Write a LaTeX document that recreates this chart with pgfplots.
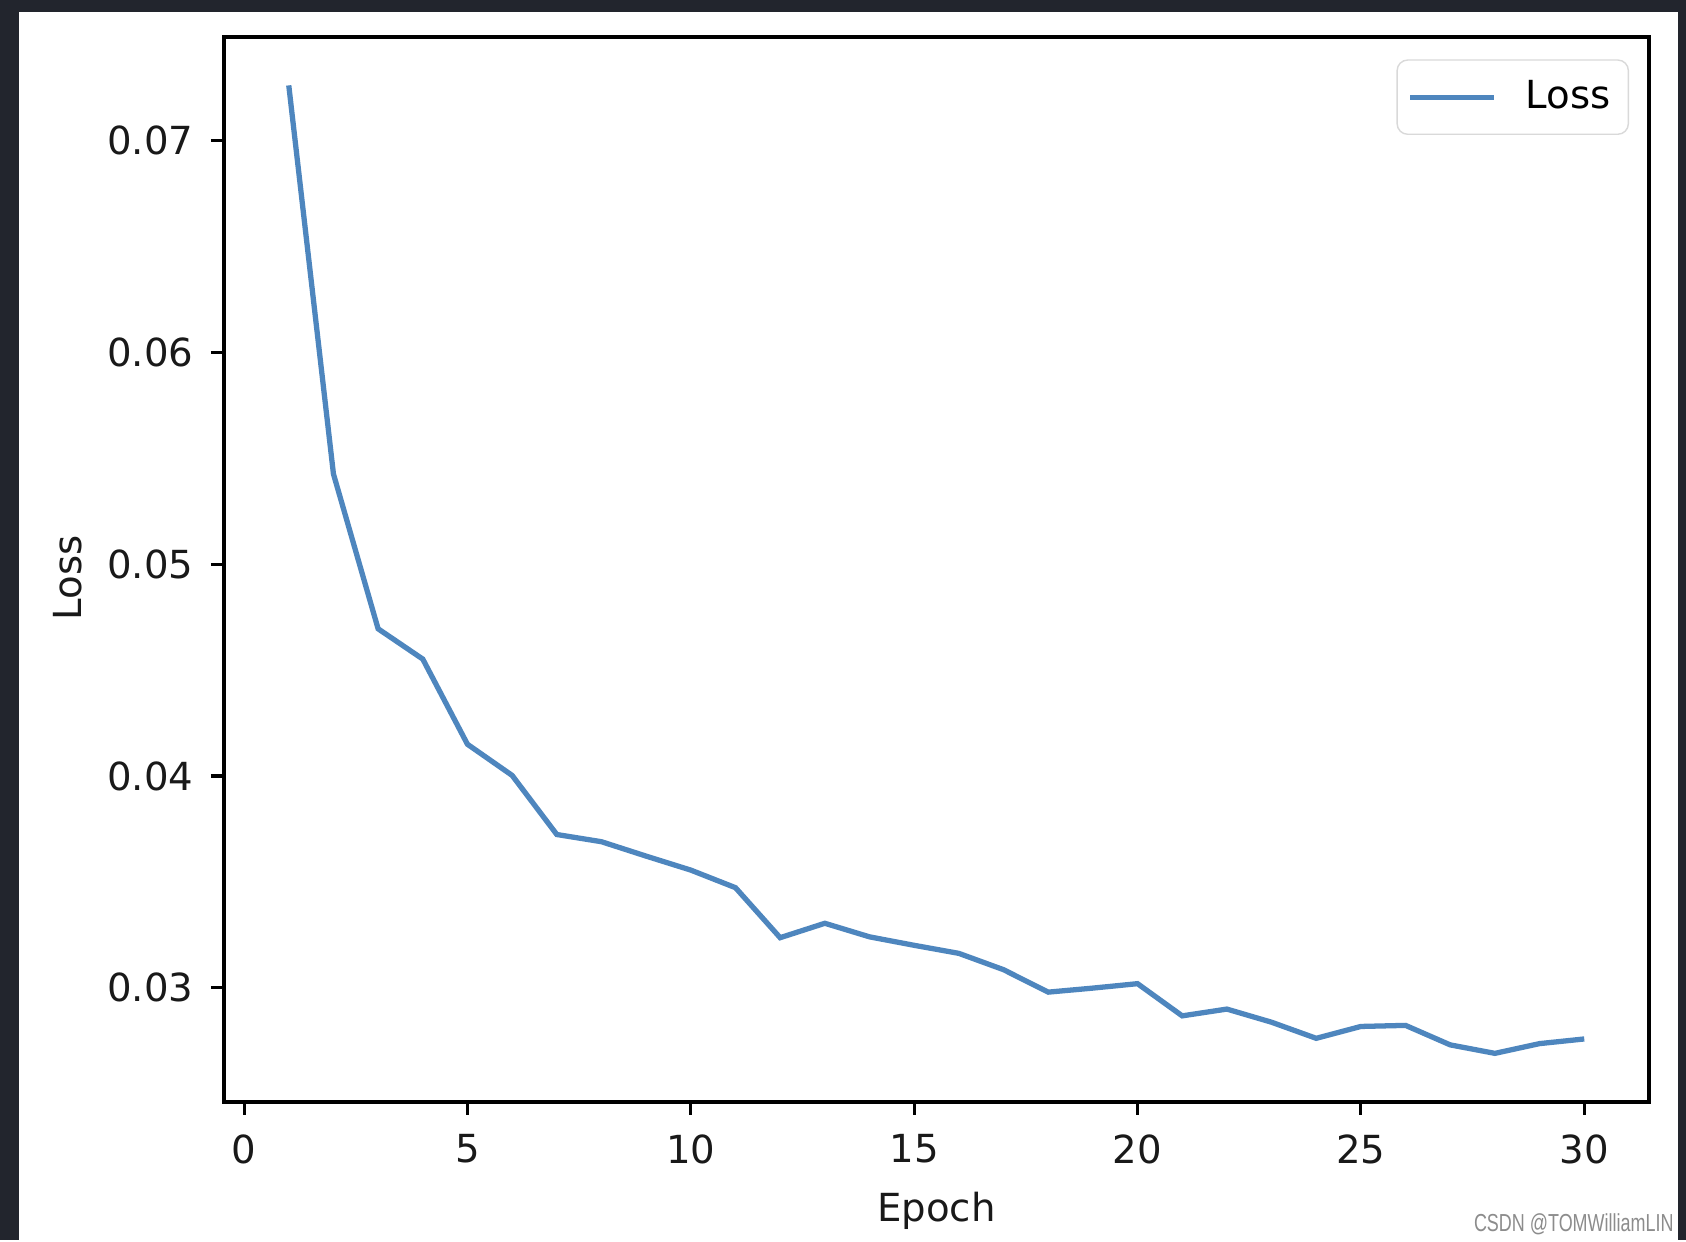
\documentclass[border=0pt]{standalone}
\usepackage{pgfplots}
\pgfplotsset{compat=1.18}
\usepackage{fontspec}
\setmainfont{DejaVu Sans}
\newfontfamily\wmfont{Liberation Sans}
\definecolor{framedark}{HTML}{22252D}
\definecolor{lossblue}{HTML}{4E86BE}
\begin{document}
\begin{tikzpicture}
\fill[framedark] (0,0) rectangle (16.86,12.40);
\fill[white] (0.19,0) rectangle (16.78,12.28);
\begin{axis}[
  at={(2.24cm,1.38cm)}, anchor=south west,
  width=14.25cm, height=10.65cm, scale only axis,
  xmin=-0.45, xmax=31.45,
  ymin=0.024615, ymax=0.074885,
  xtick={0,5,10,15,20,25,30},
  ytick={0.03,0.04,0.05,0.06,0.07},
  yticklabel style={/pgf/number format/fixed, /pgf/number format/precision=2, /pgf/number format/fixed zerofill},
  scaled y ticks=false,
  /pgf/number format/assume math mode=true,
  tick align=outside,
  major tick length=0.13cm,
  tick style={black, line width=0.9pt},
  xtick pos=bottom, ytick pos=left,
  axis line style={black, line width=0.95pt},
  xticklabel shift=2pt, yticklabel shift=1.5pt,
  tick label style={font=\fontsize{11}{13}\selectfont, black!90},
  label style={font=\fontsize{11}{13}\selectfont, black!90},
  xlabel={Epoch}, ylabel={Loss},
  xlabel style={at={(axis description cs:0.5,-0.102)}, anchor=center},
  ylabel style={at={(axis description cs:-0.110,0.492)}, anchor=center, rotate=0},
  legend style={at={(0.986,0.979)}, anchor=north east, draw=black!15, rounded corners=3pt,
    font=\fontsize{11}{13}\selectfont, inner xsep=3pt, inner ysep=3.8pt,
    /tikz/every odd column/.append style={column sep=0.22cm}},
  legend cell align=left,
  legend image code/.code={\draw[#1] (0cm,0cm) -- (0.84cm,0cm);},
]
\addplot[lossblue, line width=1.5pt] coordinates {
(1,0.0726) (2,0.05426) (3,0.04695) (4,0.04552) (5,0.04150) (6,0.04003)
(7,0.03724) (8,0.03690) (9,0.03622) (10,0.03556) (11,0.03473) (12,0.03237)
(13,0.03305) (14,0.03241) (15,0.03201) (16,0.03163) (17,0.03086) (18,0.02980)
(19,0.02999) (20,0.03020) (21,0.02868) (22,0.02900) (23,0.02838) (24,0.02762)
(25,0.02818) (26,0.02823) (27,0.02731) (28,0.02691) (29,0.02737) (30,0.02759)
};
\addlegendentry{Loss}
\end{axis}
\node[anchor=east, text=black!45, font=\wmfont\fontsize{7}{8}\selectfont, xscale=0.73, inner sep=0pt] at (16.74,0.16) {CSDN @TOMWilliamLIN};
\end{tikzpicture}
\end{document}
